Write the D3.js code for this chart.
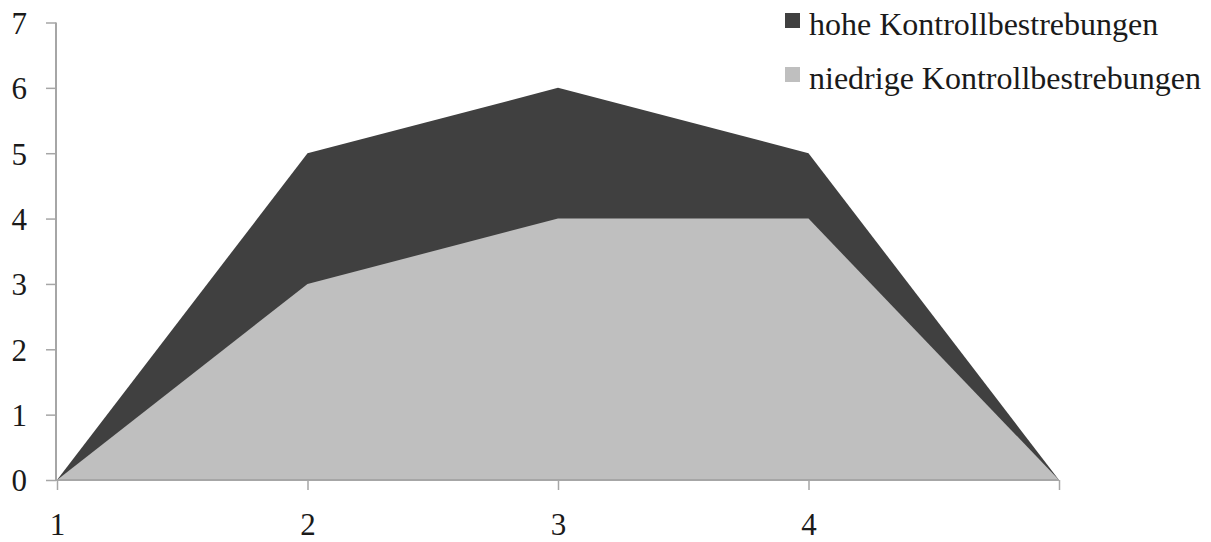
<!DOCTYPE html>
<html><head><meta charset="utf-8">
<script src="https://cdn.jsdelivr.net/npm/d3@7"></script>
<style>body{margin:0;background:#fff}svg{display:block}</style>
</head><body>
<svg id="c" width="1211" height="542"></svg>
<script>
const categories = ["1","2","3","4",""];
const highValues = [0,5,6,5,0];
const lowValues = [0,3,4,4,0];
const yTicks = [0,1,2,3,4,5,6,7];
const seriesNames = ["hohe Kontrollbestrebungen","niedrige Kontrollbestrebungen"];
const colors = ["#404040","#bfbfbf"];

const svg = d3.select("#c");
const font = "'Liberation Serif','Times New Roman',serif";
const x = d3.scalePoint().domain(d3.range(categories.length)).range([57,1059]);
const y = d3.scaleLinear().domain([0,7]).range([480,22.5]);

const area = d3.area().x((d,i)=>x(i)).y0(y(0)).y1(d=>y(d));
svg.append("path").datum(highValues).attr("d",area).attr("fill",colors[0]);
svg.append("path").datum(lowValues).attr("d",area).attr("fill",colors[1]);

const axisColor = "#a6a6a6";
// y axis
const yAxis = svg.append("g").attr("transform","translate(56,0)")
  .call(d3.axisLeft(y).tickValues(yTicks).tickSize(10).tickPadding(0).tickFormat(d3.format("d")));
yAxis.select(".domain").attr("stroke",axisColor).attr("stroke-width",2).attr("d","M0,"+y(7)+"V"+y(0));
yAxis.selectAll(".tick line").attr("stroke",axisColor).attr("stroke-width",1.5);
yAxis.selectAll(".tick text").attr("x",-29).attr("dy","0.35em").attr("text-anchor","end")
  .attr("font-family",font).attr("font-size",31).attr("fill","#1a1a1a");

// x axis
const xAxis = svg.append("g").attr("transform","translate(0,480)")
  .call(d3.axisBottom(x).tickSize(10).tickPadding(0).tickFormat(i=>categories[i]));
xAxis.select(".domain").attr("stroke",axisColor).attr("stroke-width",2).attr("d","M56,0H"+x(4));
xAxis.selectAll(".tick line").attr("stroke",axisColor).attr("stroke-width",1.5);
xAxis.selectAll(".tick text").attr("y",55).attr("dy",0).attr("text-anchor","middle")
  .attr("font-family",font).attr("font-size",31).attr("fill","#1a1a1a");

// legend
const leg = svg.append("g");
seriesNames.forEach((n,i)=>{
  const g = leg.append("g").attr("transform",`translate(785,${13+i*54})`);
  g.append("rect").attr("width",15).attr("height",15).attr("fill",colors[i]);
  g.append("text").attr("x",24).attr("y",22).attr("font-family",font).attr("font-size",32)
    .attr("fill","#1a1a1a").text(n);
});
</script>
</body></html>
